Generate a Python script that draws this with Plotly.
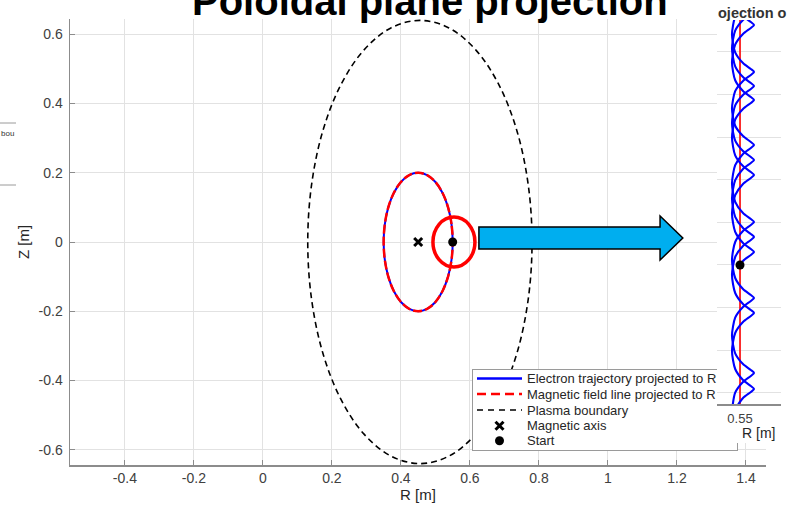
import plotly.graph_objects as go

W, H = 788, 512
FONT = "Liberation Sans, Arial, sans-serif"

# ---------------- main view data (R, Z in m) ----------------
traj_R = [0.55, 0.5466, 0.5366, 0.5207, 0.5, 0.4759, 0.45, 0.4241, 0.4, 0.3793, 0.3634, 0.3534, 0.35,
          0.3534, 0.3634, 0.3793, 0.4, 0.4241, 0.45, 0.4759, 0.5, 0.5207, 0.5366, 0.5466, 0.55]
traj_Z = [0, 0.0518, 0.1, 0.1414, 0.1732, 0.1932, 0.2, 0.1932, 0.1732, 0.1414, 0.1, 0.0518, 0,
          -0.0518, -0.1, -0.1414, -0.1732, -0.1932, -0.2, -0.1932, -0.1732, -0.1414, -0.1, -0.0518, 0]
field_R = [0.55, 0.5466, 0.5366, 0.5207, 0.5, 0.4759, 0.45, 0.4241, 0.4, 0.3793, 0.3634, 0.3534, 0.35,
           0.3534, 0.3634, 0.3793, 0.4, 0.4241, 0.45, 0.4759, 0.5, 0.5207, 0.5366, 0.5466, 0.55]
field_Z = [0, 0.0518, 0.1, 0.1414, 0.1732, 0.1932, 0.2, 0.1932, 0.1732, 0.1414, 0.1, 0.0518, 0,
           -0.0518, -0.1, -0.1414, -0.1732, -0.1932, -0.2, -0.1932, -0.1732, -0.1414, -0.1, -0.0518, 0]
boundary_R = [0.6175, 0.6848, 0.7365, 0.7689, 0.78, 0.7689, 0.7365, 0.6848, 0.6175, 0.5391, 0.455,
              0.3709, 0.2925, 0.2252, 0.1735, 0.1411, 0.13, 0.1411, 0.1735, 0.2252, 0.2925, 0.3709,
              0.455, 0.5391, 0.6175]
boundary_Z = [-0.5542, -0.4525, -0.32, -0.1656, 0, 0.1656, 0.32, 0.4525, 0.5542, 0.6182, 0.64,
              0.6182, 0.5542, 0.4525, 0.32, 0.1656, 0, -0.1656, -0.32, -0.4525, -0.5542, -0.6182,
              -0.64, -0.6182, -0.5542]
axis_R, axis_Z = [0.45], [0.0]
start_R, start_Z = [0.55], [0.0]

x_ticks = [-0.4, -0.2, 0, 0.2, 0.4, 0.6, 0.8, 1.0, 1.2, 1.4]
x_ticklabels = ["-0.4", "-0.2", "0", "0.2", "0.4", "0.6", "0.8", "1", "1.2", "1.4"]
y_ticks = [-0.6, -0.4, -0.2, 0, 0.2, 0.4, 0.6]
y_ticklabels = ["-0.6", "-0.4", "-0.2", "0", "0.2", "0.4", "0.6"]

legend_labels = ["Electron trajectory projected to R", "Magnetic field line projected to R",
                 "Plasma boundary", "Magnetic axis", "Start"]

# ---------------- zoomed view data (R in m, Z in mm) ----------------
zoomA_R = [0.550329, 0.550254, 0.550070, 0.549887, 0.549812, 0.549887, 0.550070, 0.550254,
           0.550329, 0.550254, 0.550070, 0.549887, 0.549812, 0.549887, 0.550070, 0.550254,
           0.550329, 0.550254, 0.550070, 0.549887, 0.549812, 0.549887, 0.550070, 0.550254,
           0.550329, 0.550254, 0.550070, 0.549887, 0.549812, 0.549887, 0.550070, 0.550254,
           0.550329, 0.550254, 0.550070, 0.549887, 0.549812, 0.549887, 0.550070, 0.550254,
           0.550329, 0.550254, 0.550070, 0.549887, 0.549812]
zoomA_Z = [6.291, 6.221, 6.080, 5.829, 5.411, 4.993, 4.742, 4.601,
           4.531, 4.461, 4.320, 4.080, 3.674, 3.268, 3.028, 2.887,
           2.817, 2.747, 2.606, 2.343, 1.913, 1.484, 1.220, 1.079,
           1.009, 0.939, 0.798, 0.540, 0.117, -0.305, -0.564, -0.705,
           -0.775, -0.845, -0.986, -1.237, -1.655, -2.073, -2.324, -2.465,
           -2.535, -2.605, -2.746, -2.998, -3.415]
zoomB_R = [0.550329, 0.550254, 0.550070, 0.549887, 0.549812, 0.549887, 0.550070, 0.550254,
           0.550329, 0.550254, 0.550070, 0.549887, 0.549812, 0.549887, 0.550070, 0.550254,
           0.550329, 0.550254, 0.550070, 0.549887, 0.549812, 0.549887, 0.550070, 0.550254,
           0.550329, 0.550254, 0.550070, 0.549887, 0.549812, 0.549887, 0.550070, 0.550254,
           0.550329, 0.550254, 0.550070, 0.549887, 0.549812, 0.549887, 0.550070, 0.550254,
           0.550329, 0.550254, 0.550070, 0.549887]
zoomB_Z = [5.962, 5.892, 5.751, 5.500, 5.082, 4.664, 4.413, 4.272,
           4.202, 4.132, 3.991, 3.746, 3.333, 2.920, 2.676, 2.535,
           2.465, 2.395, 2.254, 1.991, 1.561, 1.131, 0.868, 0.727,
           0.657, 0.587, 0.446, 0.188, -0.235, -0.657, -0.916, -1.057,
           -1.127, -1.197, -1.338, -1.596, -2.019, -2.441, -2.700, -2.841,
           -2.911, -2.981, -3.122, -3.380]
zoomC_R = [0.55, 0.550070, 0.550254, 0.550329,
           0.550254, 0.550070, 0.549887, 0.549812, 0.549887, 0.550070, 0.550254, 0.550329,
           0.550254, 0.550070, 0.549887, 0.549812, 0.549887, 0.550070, 0.550254, 0.550329,
           0.550254, 0.550070, 0.549887, 0.549812, 0.549887, 0.550070, 0.550254, 0.550329,
           0.550254, 0.550070, 0.549887]
zoomC_Z = [0.0, 0.094, 0.235, 0.305,
           0.375, 0.516, 0.779, 1.209, 1.638, 1.902, 2.043, 2.113,
           2.183, 2.324, 2.575, 2.993, 3.411, 3.662, 3.803, 3.873,
           3.943, 4.084, 4.336, 4.754, 5.171, 5.423, 5.564, 5.634,
           5.704, 5.845, 6.096]
zoom_field_R = [0.55, 0.55]
zoom_field_Z = [-3.6, 6.4]
zoom_start_R, zoom_start_Z = [0.55], [0.0]

# ---------------- figure ----------------
def px(v, total):
    return v / total

fig = go.Figure()

# main view
fig.add_trace(go.Scatter(x=traj_R, y=traj_Z, mode="lines", line=dict(color="#0000ff", width=2, shape="spline"),
                         xaxis="x", yaxis="y", showlegend=False, hoverinfo="skip"))
fig.add_trace(go.Scatter(x=field_R, y=field_Z, mode="lines",
                         line=dict(color="#ff0000", width=2.5, dash="9px,3px", shape="spline"),
                         xaxis="x", yaxis="y", showlegend=False, hoverinfo="skip"))
fig.add_trace(go.Scatter(x=boundary_R, y=boundary_Z, mode="lines",
                         line=dict(color="#000000", width=1.6, dash="6px,4px", shape="spline"),
                         xaxis="x", yaxis="y", showlegend=False, hoverinfo="skip"))
fig.add_trace(go.Scatter(x=axis_R, y=axis_Z, mode="markers",
                         marker=dict(symbol="x-thin", size=8, line=dict(color="black", width=3)),
                         xaxis="x", yaxis="y", showlegend=False, hoverinfo="skip"))
fig.add_trace(go.Scatter(x=start_R, y=start_Z, mode="markers", marker=dict(color="black", size=9),
                         xaxis="x", yaxis="y", showlegend=False, hoverinfo="skip"))

# legend box (subplot x2/y2, pixel coordinates inside the box)
leg_x0, leg_x1, leg_y0, leg_y1 = 473, 737, 370, 450
row_y = [378.5, 394, 410, 425.7, 440.7]
sx0, sx1, smid, text_x = 477, 522, 499.5, 525
fig.add_trace(go.Scatter(x=[sx0, sx1], y=[row_y[0]] * 2, mode="lines", line=dict(color="#0000ff", width=2.5),
                         xaxis="x2", yaxis="y2", showlegend=False, hoverinfo="skip"))
fig.add_trace(go.Scatter(x=[sx0, sx1], y=[row_y[1]] * 2, mode="lines",
                         line=dict(color="#ff0000", width=2.5, dash="9px,5px"),
                         xaxis="x2", yaxis="y2", showlegend=False, hoverinfo="skip"))
fig.add_trace(go.Scatter(x=[sx0, sx1], y=[row_y[2]] * 2, mode="lines",
                         line=dict(color="#000000", width=1.6, dash="6px,5px"),
                         xaxis="x2", yaxis="y2", showlegend=False, hoverinfo="skip"))
fig.add_trace(go.Scatter(x=[smid], y=[row_y[3]], mode="markers",
                         marker=dict(symbol="x-thin", size=8, line=dict(color="black", width=3)),
                         xaxis="x2", yaxis="y2", showlegend=False, hoverinfo="skip"))
fig.add_trace(go.Scatter(x=[smid], y=[row_y[4]], mode="markers", marker=dict(color="black", size=9),
                         xaxis="x2", yaxis="y2", showlegend=False, hoverinfo="skip"))

# white cover panel (subplot x3/y3)
fig.add_trace(go.Scatter(x=[0.5], y=[0.5], mode="markers", marker=dict(opacity=0),
                         xaxis="x3", yaxis="y3", showlegend=False, hoverinfo="skip"))

# zoomed view (subplot x4/y4)
zoom_R = zoomA_R + [None] + zoomB_R + [None] + zoomC_R
zoom_Z = zoomA_Z + [None] + zoomB_Z + [None] + zoomC_Z
fig.add_trace(go.Scatter(x=zoom_field_R, y=zoom_field_Z, mode="lines", line=dict(color="#ff0000", width=1.6),
                         xaxis="x4", yaxis="y4", showlegend=False, hoverinfo="skip"))
fig.add_trace(go.Scatter(x=zoom_R, y=zoom_Z, mode="lines", line=dict(color="#0000ff", width=2.1, shape="spline",
                                                                     smoothing=0.7),
                         connectgaps=False, xaxis="x4", yaxis="y4", showlegend=False, hoverinfo="skip"))
fig.add_trace(go.Scatter(x=zoom_start_R, y=zoom_start_Z, mode="markers", marker=dict(color="black", size=9),
                         xaxis="x4", yaxis="y4", showlegend=False, hoverinfo="skip"))

GRID = "#e2e2e2"
AX = "#8c8c8c"
TICKFONT = dict(family=FONT, size=14, color="#404040")

fig.update_layout(
    width=W, height=H,
    margin=dict(l=0, r=0, t=0, b=0),
    paper_bgcolor="white", plot_bgcolor="white",
    showlegend=False,
    xaxis=dict(domain=[px(70, W), px(766, W)], anchor="y", range=[-0.559, 1.458],
               tickvals=x_ticks, ticktext=x_ticklabels, tickfont=TICKFONT,
               showgrid=True, gridcolor=GRID, gridwidth=1, zeroline=False,
               showline=True, linecolor=AX, linewidth=1.5, ticks="inside", ticklen=5, tickcolor=AX,
               ticklabelstandoff=0),
    yaxis=dict(domain=[1 - px(465, H), 1 - px(19, H)], anchor="x", range=[-0.644, 0.644],
               tickvals=y_ticks, ticktext=y_ticklabels, tickfont=TICKFONT,
               showgrid=True, gridcolor=GRID, gridwidth=1, zeroline=False,
               showline=True, linecolor=AX, linewidth=1.5, ticks="inside", ticklen=5, tickcolor=AX,
               ticklabelstandoff=3),
    xaxis2=dict(domain=[px(leg_x0, W), px(leg_x1, W)], anchor="y2", range=[leg_x0, leg_x1],
                showgrid=False, zeroline=False, showticklabels=False, ticks="",
                showline=True, mirror=True, linecolor="#9a9a9a", linewidth=1),
    yaxis2=dict(domain=[1 - px(leg_y1, H), 1 - px(leg_y0, H)], anchor="x2", range=[leg_y1, leg_y0],
                showgrid=False, zeroline=False, showticklabels=False, ticks="",
                showline=True, mirror=True, linecolor="#9a9a9a", linewidth=1),
    xaxis3=dict(domain=[px(717, W), 1], anchor="y3", range=[0, 1], visible=False),
    yaxis3=dict(domain=[1 - px(443, H), 1], anchor="x3", range=[0, 1], visible=False),
    xaxis4=dict(domain=[px(717, W), px(781, W)], anchor="y4", range=[0.549460, 0.550962],
                tickvals=[0.55], ticktext=["0.55"], tickfont=dict(family=FONT, size=13, color="#404040"),
                showgrid=True, gridcolor=GRID, zeroline=False,
                showline=True, linecolor=AX, linewidth=1.5, ticks="", ticklabelstandoff=2),
    yaxis4=dict(domain=[1 - px(404, H), 1 - px(20, H)], anchor="x4", range=[-3.263, 5.751],
                dtick=1, tick0=0, showticklabels=False, ticks="",
                showgrid=True, gridcolor=GRID, zeroline=False, showline=False),
)

shapes = [
    # red highlight around start point
    dict(type="circle", xref="x", yref="y", x0=0.4928, x1=0.6145, y0=-0.072, y1=0.072,
         line=dict(color="#ff0000", width=3.5), layer="above"),
    # blue arrow pointing to the zoomed view
    dict(type="path", xref="x", yref="y",
         path="M 0.626 0.0434 L 1.151 0.0434 L 1.151 0.0751 L 1.217 0.0116 L 1.151 -0.052 "
              "L 1.151 -0.0202 L 0.626 -0.0202 Z",
         fillcolor="#00aeef", line=dict(color="black", width=1.5), layer="above"),
    # fragment of another legend at left edge
    dict(type="line", xref="paper", yref="paper", x0=0, x1=px(16, W), y0=1 - px(123, H), y1=1 - px(123, H),
         line=dict(color="#9a9a9a", width=1)),
    dict(type="line", xref="paper", yref="paper", x0=0, x1=px(16, W), y0=1 - px(185, H), y1=1 - px(185, H),
         line=dict(color="#9a9a9a", width=1)),
]

annotations = [
    dict(text="<b>Poloidal plane projection</b>", xref="paper", yref="paper", x=px(430, W), y=1 - px(25.5, H),
         xanchor="center", yanchor="bottom", showarrow=False, font=dict(family=FONT, size=40, color="black")),
    dict(text="R [m]", xref="paper", yref="paper", x=px(418, W), y=1 - px(494, H), xanchor="center",
         yanchor="middle", showarrow=False, font=dict(family=FONT, size=15, color="#262626")),
    dict(text="Z [m]", xref="paper", yref="paper", x=px(23, W), y=1 - px(242, H), xanchor="center",
         yanchor="middle", textangle=-90, showarrow=False, font=dict(family=FONT, size=15, color="#262626")),
    dict(text="<b>ojection o</b>", xref="paper", yref="paper", x=px(716, W), y=1 - px(13, H), xanchor="left",
         yanchor="middle", showarrow=False, font=dict(family=FONT, size=14.5, color="#333333")),
    dict(text="R [m]", xref="paper", yref="paper", x=px(758, W), y=1 - px(433, H), xanchor="center",
         yanchor="middle", showarrow=False, font=dict(family=FONT, size=14, color="#262626")),
    dict(text="bou", xref="paper", yref="paper", x=px(16, W), y=1 - px(133, H), xanchor="right",
         yanchor="middle", showarrow=False, font=dict(family=FONT, size=8, color="#333333")),
]
for lab, ry in zip(legend_labels, row_y):
    annotations.append(dict(text=lab, xref="x2", yref="y2", x=text_x, y=ry, xanchor="left", yanchor="middle",
                            showarrow=False, font=dict(family=FONT, size=13, color="#262626")))

fig.update_layout(shapes=shapes, annotations=annotations)
fig.write_html("out.html", config={"displayModeBar": False, "staticPlot": True},
               post_script="document.body.style.margin='0px';document.body.style.overflow='hidden';")
